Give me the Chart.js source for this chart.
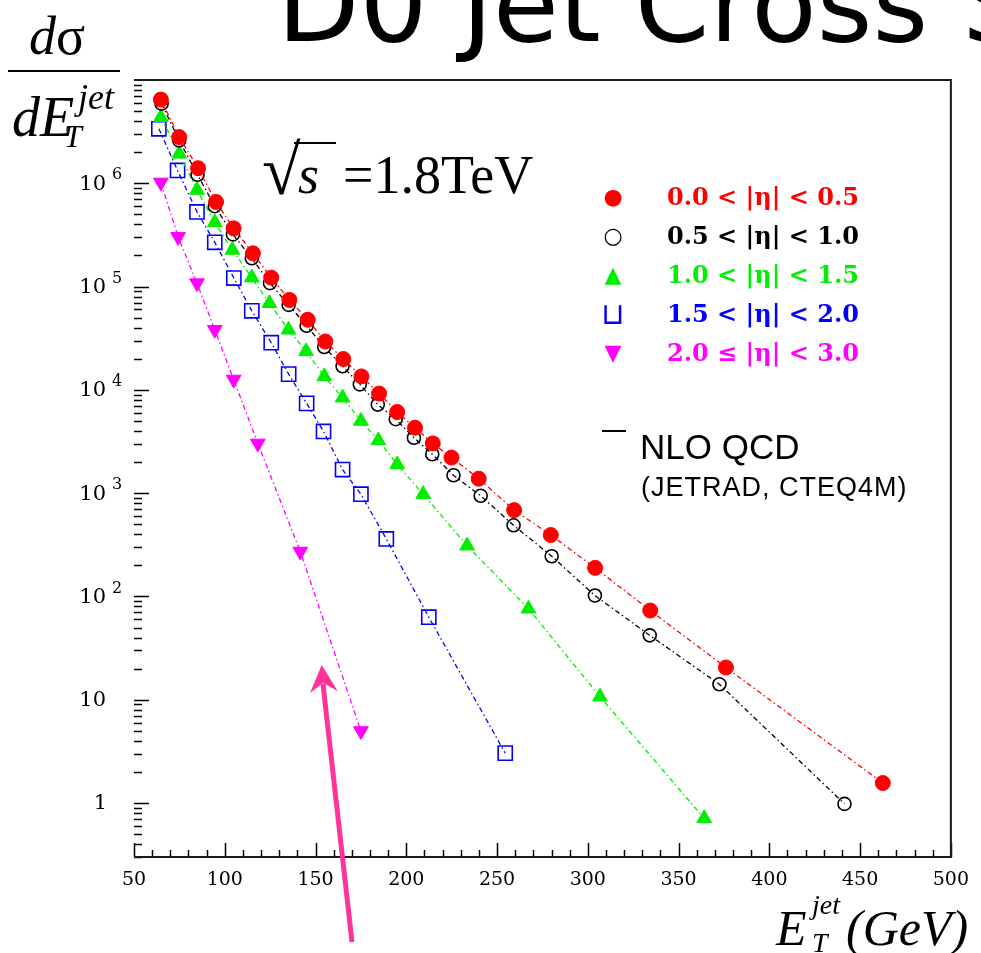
<!DOCTYPE html>
<html>
<head>
<meta charset="utf-8">
<script src="https://cdn.jsdelivr.net/npm/chart.js@4.4.1/dist/chart.umd.min.js"></script>
<style>
  html, body { margin: 0; padding: 0; background: #fff; }
  body { width: 981px; height: 953px; overflow: hidden; position: relative; }
  #chart { position: absolute; left: 0; top: 0; }
  .abs { position: absolute; white-space: nowrap; line-height: 1; }
  .serif { font-family: "Liberation Serif", "Times New Roman", serif; }
  .sans { font-family: "Liberation Sans", Arial, sans-serif; }
  #title { font-family: "DejaVu Sans", sans-serif; font-size: 107px; left: 277px; top: -49px; }
  .leg-row { position: absolute; left: 598px; height: 30px; width: 300px; white-space: nowrap; }
  .leg-mark { position: absolute; left: 0; width: 30px; text-align: center; font-family: "DejaVu Sans", sans-serif; line-height: 30px; }
  .leg-text { position: absolute; left: 69px; font-family: "DejaVu Serif", serif; font-weight: bold; font-size: 24px; line-height: 30px; white-space: nowrap; }
</style>
</head>
<body>
<canvas id="chart" width="981" height="953"></canvas>

<div class="abs" id="title">D0 Jet Cross Section</div>

<!-- y axis title: dsigma / dE_T^jet -->
<div class="abs serif" style="left:29px; top:9px; font-size:54px;"><i>d</i>σ</div>
<div class="abs" style="left:8px; top:70px; width:112px; height:2px; background:#000;"></div>
<div class="abs serif" style="left:12px; top:89px; font-size:56px;"><i>dE</i></div>
<div class="abs serif" style="left:78px; top:79px; font-size:36px;"><i>jet</i></div>
<div class="abs serif" style="left:64px; top:120px; font-size:32px;"><i>T</i></div>

<!-- sqrt(s) = 1.8 TeV -->
<div class="abs serif" style="left:262px; top:136px; font-size:70px;">√</div>
<div class="abs serif" style="left:298px; top:148px; font-size:54px;"><i>s</i></div>
<div class="abs" style="left:294px; top:142px; width:42px; height:2px; background:#000;"></div>
<div class="abs serif" style="left:343px; top:148px; font-size:54px;">=1.8TeV</div>

<div id="legend"></div>

<div class="abs" style="left:602px; top:430px; width:24px; height:2px; background:#000;"></div>
<div class="abs sans" style="left:640px; top:429px; font-size:35px;">NLO QCD</div>
<div class="abs sans" style="left:641px; top:474px; font-size:27px; letter-spacing:1px;">(JETRAD, CTEQ4M)</div>

<!-- x axis title: E_T^jet (GeV) -->
<div class="abs serif" style="left:776px; top:903px; font-size:50px;"><i>E</i></div>
<div class="abs serif" style="left:812px; top:891px; font-size:28px;"><i>jet</i></div>
<div class="abs serif" style="left:812px; top:929px; font-size:28px;"><i>T</i></div>
<div class="abs serif" style="left:846px; top:903px; font-size:50px;"><i>(GeV)</i></div>

<svg class="abs" style="left:0; top:0;" width="981" height="953">
  <line x1="352" y1="942" x2="323" y2="684" stroke="#ff3399" stroke-width="5"/>
  <polygon points="321.7,665 337.7,691 323,683 310,693" fill="#ff3399"/>
</svg>

<script>
// E_T (GeV) and d(sigma)/dE_T, one pair of arrays per |eta| bin
const etRed = [64.8, 74.9, 85.3, 95.2, 104.9, 115.5, 125.6, 135.6, 145.7, 155.4, 165.3, 175.3,
  185, 195, 204.8, 214.6, 224.9, 239.9, 259.4, 279.6, 304, 334.4, 376.1, 462.5];
const xsRed = [6.46e6, 2.80e6, 1.40e6, 6.6e5, 3.66e5, 2.10e5, 1.22e5, 7.43e4, 4.77e4, 2.94e4, 1.99e4, 1.35e4,
  9.2e3, 6.1e3, 4.3e3, 3.03e3, 2.21e3, 1.38e3, 685, 393, 189, 73, 20.5, 1.56];

const etBlack = [65.2, 74.9, 85, 94.5, 104.5, 114.9, 124.9, 135.2, 145.1, 154.8, 164.9, 174.4,
  184.3, 194.2, 204.2, 214.3, 226, 241, 259.1, 280.1, 303.9, 334.1, 372.5, 441.4];
const xsBlack = [5.9e6, 2.6e6, 1.21e6, 6.0e5, 3.2e5, 1.88e5, 1.08e5, 6.65e4, 4.17e4, 2.60e4, 1.69e4, 1.13e4,
  7.2e3, 5.2e3, 3.44e3, 2.38e3, 1.49e3, 942, 488, 245, 102, 42, 14.1, 0.98];

const etGreen = [64.8, 74.9, 84.7, 94.5, 104.2, 114.9, 124.6, 135.1, 144.8, 154.8, 164.9, 175,
  184.6, 195, 209.3, 233.5, 267.3, 306.7, 364.1];
const xsGreen = [4.36e6, 1.93e6, 8.6e5, 4.18e5, 2.26e5, 1.22e5, 6.9e4, 3.82e4, 2.36e4, 1.35e4, 8.4e3, 5.0e3,
  3.24e3, 1.90e3, 977, 310, 76, 10.7, 0.71];

const etBlue = [63.7, 74, 84.7, 94.5, 105, 114.9, 125.6, 135.2, 145.1, 154.4, 164.9, 175, 189, 212.4, 254.5];
const xsBlue = [3.37e6, 1.33e6, 5.28e5, 2.68e5, 1.21e5, 5.82e4, 2.86e4, 1.42e4, 7.4e3, 3.96e3, 1.69e3, 977, 360, 63, 3.04];

const etMagenta = [64.8, 74.3, 84.7, 94.5, 104.9, 118.2, 141.6, 175];
const xsMagenta = [1.02e6, 3.03e5, 1.08e5, 3.82e4, 1.26e4, 3.03e3, 272, 4.98];

const seriesLabels = ["0.0 < |η| < 0.5", "0.5 < |η| < 1.0", "1.0 < |η| < 1.5", "1.5 < |η| < 2.0", "2.0 ≤ |η| < 3.0"];
const seriesColors = ["#ff0000", "#000000", "#00ee00", "#0000ff", "#ff00ff"];
const legendMarks = ["●", "○", "▲", "⊔", "▼"];
const legendMarkSize = [22, 22, 22, 30, 22];

const xTicks = [50, 100, 150, 200, 250, 300, 350, 400, 450, 500];
const yTicks = [1, 10, 100, 1e3, 1e4, 1e5, 1e6];
const yTickBase = ["1", "10", "10", "10", "10", "10", "10"];
const yTickExp = ["", "", "2", "3", "4", "5", "6"];

// legend built from the same arrays
const legend = document.getElementById("legend");
seriesLabels.forEach((lab, i) => {
  const row = document.createElement("div");
  row.className = "leg-row";
  row.style.top = (182 + i * 39) + "px";
  row.innerHTML = '<span class="leg-mark" style="color:' + seriesColors[i] + '; font-size:' + legendMarkSize[i] + 'px">' +
    legendMarks[i] + "</span>" +
    '<span class="leg-text" style="color:' + seriesColors[i] + '">' + lab.replace(/</g, "&lt;") + "</span>";
  legend.appendChild(row);
});

function pts(xs, ys) {
  return xs.map((x, i) => ({ x: x, y: ys[i] }));
}

const dashDot = [5, 3, 1.5, 3];
const series = [
  { data: pts(etRed, xsRed), style: "circle", r: 7.5, fill: true, rot: 0 },
  { data: pts(etBlack, xsBlack), style: "circle", r: 6.5, fill: false, rot: 0 },
  { data: pts(etGreen, xsGreen), style: "triangle", r: 8.5, fill: true, rot: 0 },
  { data: pts(etBlue, xsBlue), style: "rect", r: 10, fill: false, rot: 0 },
  { data: pts(etMagenta, xsMagenta), style: "triangle", r: 8.5, fill: true, rot: 180 },
];

const datasets = series.map((s, i) => ({
  label: seriesLabels[i],
  data: s.data,
  showLine: true,
  borderColor: seriesColors[i],
  borderWidth: 1.3,
  borderDash: dashDot,
  pointStyle: s.style,
  pointRadius: s.r,
  pointRotation: s.rot,
  pointBackgroundColor: s.fill ? seriesColors[i] : "rgba(0,0,0,0)",
  pointBorderColor: seriesColors[i],
  pointBorderWidth: s.fill ? 1 : 1.6,
}));

// ROOT style frame: ticks inside, no left line, y labels as 10 + exponent
const frameTicks = {
  id: "frameTicks",
  afterDraw(chart) {
    const { ctx, chartArea: a } = chart;
    const x = chart.scales.x, y = chart.scales.y;
    ctx.save();
    ctx.strokeStyle = "#000";
    ctx.lineWidth = 1.5;
    ctx.beginPath();
    for (let e = -1; e <= 6; e++) {
      for (let m = 1; m <= 9; m++) {
        const v = m * Math.pow(10, e);
        if (v < y.min || v > y.max) continue;
        const py = Math.round(y.getPixelForValue(v)) + 0.5;
        const len = m === 1 ? 15 : 8;
        ctx.moveTo(a.left, py);
        ctx.lineTo(a.left + len, py);
      }
    }
    for (let v = 50; v <= 500; v += 10) {
      const px = Math.round(x.getPixelForValue(v)) + 0.5;
      const len = v % 50 === 0 ? 14 : 7;
      ctx.moveTo(px, a.bottom);
      ctx.lineTo(px, a.bottom - len);
    }
    ctx.stroke();
    ctx.lineWidth = 2;
    ctx.strokeStyle = "#1a1a1a";
    ctx.beginPath();
    ctx.moveTo(a.left, a.top);
    ctx.lineTo(a.right, a.top);
    ctx.lineTo(a.right, a.bottom);
    ctx.lineTo(a.left, a.bottom);
    ctx.stroke();

    ctx.fillStyle = "#000";
    ctx.textBaseline = "middle";
    yTicks.forEach((v, i) => {
      const py = y.getPixelForValue(v);
      ctx.font = "21px 'DejaVu Serif'";
      ctx.textAlign = "right";
      ctx.fillText(yTickBase[i], yTickBase[i] === "1" ? 107 : 106, py + 1);
      if (yTickExp[i]) {
        ctx.font = "16px 'DejaVu Serif'";
        ctx.textAlign = "left";
        ctx.fillText(yTickExp[i], 112, py - 8);
      }
    });
    ctx.restore();
  },
};

new Chart(document.getElementById("chart").getContext("2d"), {
  type: "scatter",
  data: { datasets: datasets },
  options: {
    responsive: false,
    animation: false,
    events: [],
    layout: { padding: { top: 80, right: 27, left: 0, bottom: 0 } },
    plugins: { legend: { display: false }, tooltip: { enabled: false } },
    scales: {
      x: {
        type: "linear",
        min: 50,
        max: 500,
        afterFit: (s) => { s.height = 96; },
        afterBuildTicks: (s) => { s.ticks = xTicks.map((v) => ({ value: v })); },
        grid: { display: false, drawTicks: false },
        border: { display: false },
        ticks: {
          padding: 12,
          color: "#000",
          font: { family: "DejaVu Serif", size: 19 },
          callback: (v) => String(v),
        },
      },
      y: {
        type: "logarithmic",
        min: 0.315,
        max: 1e7,
        afterFit: (s) => { s.width = 134; },
        afterBuildTicks: (s) => { s.ticks = yTicks.map((v) => ({ value: v })); },
        grid: { display: false, drawTicks: false },
        border: { display: false },
        ticks: { display: false },
      },
    },
  },
  plugins: [frameTicks],
});
</script>
</body>
</html>
